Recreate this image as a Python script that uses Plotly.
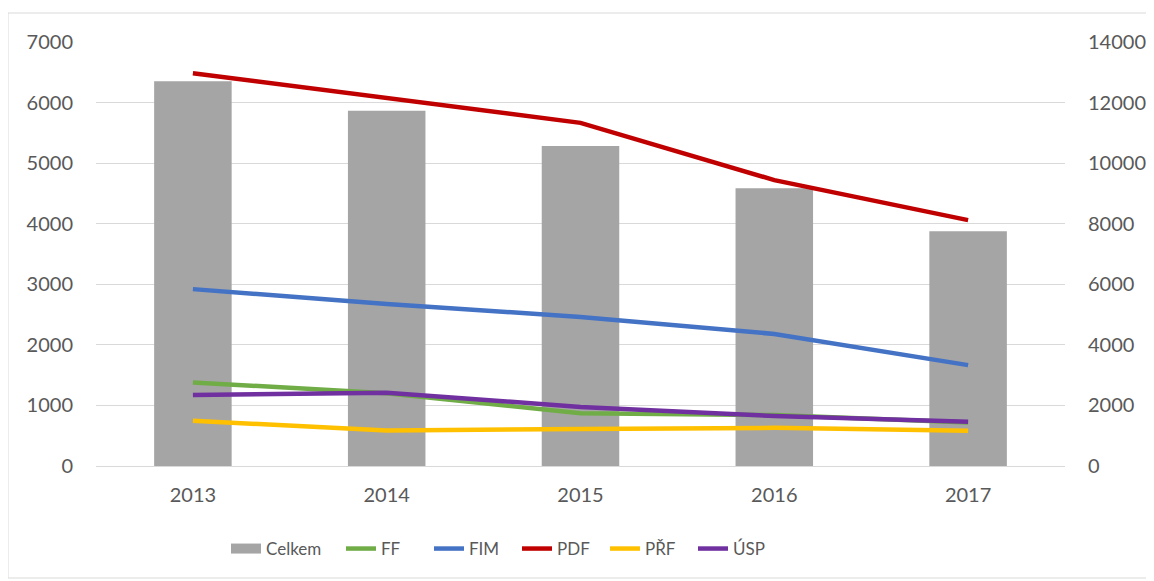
import plotly.graph_objects as go

years = ["2013", "2014", "2015", "2016", "2017"]
celkem = [12700, 11730, 10570, 9170, 7750]
ff = [1380, 1200, 870, 840, 720]
fim = [2920, 2675, 2460, 2180, 1665]
pdf = [6485, 6075, 5665, 4720, 4060]
prf = [748, 585, 610, 630, 583]
usp = [1172, 1210, 975, 825, 732]

line_series = [
    ("FF", ff, "#70ad47"),
    ("FIM", fim, "#4472c4"),
    ("PDF", pdf, "#c00000"),
    ("PŘF", prf, "#ffc000"),
    ("ÚSP", usp, "#7030a0"),
]

tick_font = dict(family="Lato, 'Open Sans', sans-serif", size=20, color="#595959")
leg_font = dict(family="Lato, 'Open Sans', sans-serif", size=17, color="#595959")

# page body has an 8px margin; shift everything accordingly
W, H = 1146, 573
L, T, PW, PH = 88, 34, 969, 424

fig = go.Figure()
fig.add_trace(go.Bar(x=years, y=celkem, name="Celkem", marker_color="#a5a5a5",
                     marker_line_width=0, width=0.4, yaxis="y", showlegend=False))
# legend proxy for the bar (wide gray swatch)
fig.add_trace(go.Scatter(x=[None], y=[None], name="Celkem", mode="lines",
                         line=dict(color="#a5a5a5", width=14), yaxis="y",
                         legend="legend"))
for name, vals, col in line_series:
    fig.add_trace(go.Scatter(x=years, y=vals, name=name, mode="lines",
                             line=dict(color=col, width=4.5), yaxis="y2",
                             legend="legend2"))

leg_y = (466 - 549) / PH
fig.update_layout(
    width=W, height=H,
    margin=dict(l=L, r=W - L - PW, t=T, b=H - T - PH, autoexpand=False),
    paper_bgcolor="white", plot_bgcolor="white",
    font=tick_font,
    showlegend=True,
    legend=dict(orientation="h", x=(226 - 96) / PW, xanchor="left",
                y=leg_y, yanchor="middle", font=leg_font),
    legend2=dict(orientation="h", x=(341 - 96) / PW, xanchor="left",
                 y=leg_y, yanchor="middle", font=leg_font, traceorder="normal",
                 entrywidth=43, entrywidthmode="pixels"),
    xaxis=dict(showgrid=False, showline=False, ticks="", tickfont=tick_font,
               ticklabelstandoff=15, automargin=False),
    yaxis=dict(side="right", range=[0, 14000], dtick=2000, tickformat="d",
               showgrid=True, gridcolor="#d9d9d9", gridwidth=1, zeroline=True,
               zerolinecolor="#d9d9d9", zerolinewidth=1, showline=False, ticks="",
               tickfont=tick_font, ticklabelstandoff=22, automargin=False),
    yaxis2=dict(side="left", overlaying="y", range=[0, 7000], dtick=1000,
                tickformat="d", showgrid=False, zeroline=False, showline=False,
                ticks="", tickfont=tick_font, ticklabelstandoff=22,
                automargin=False),
    shapes=[dict(type="rect", xref="paper", yref="paper",
                 x0=(8 - 96) / PW, x1=(1152 - 96) / PW,
                 y0=(466 - 578) / PH, y1=1 + (42 - 13) / PH,
                 line=dict(color="#d9d9d9", width=1), fillcolor="rgba(0,0,0,0)",
                 layer="below")],
)

fig.write_html("out.html")
